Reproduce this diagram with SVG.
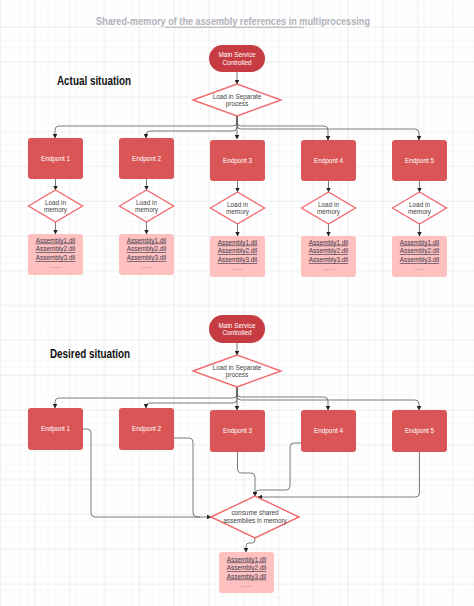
<svg xmlns="http://www.w3.org/2000/svg" width="474" height="606" viewBox="0 0 474 606">
<defs>
<pattern id="minor" width="6.96" height="6.96" patternUnits="userSpaceOnUse" x="0" y="27">
<path d="M6.96 0V6.96M0 6.96H6.96" fill="none" stroke="#ececec" stroke-width="0.6"/>
</pattern>
<pattern id="major" width="34.8" height="34.8" patternUnits="userSpaceOnUse" x="0" y="27">
<path d="M0 0V34.8M0 0H34.8" fill="none" stroke="#dcdcdc" stroke-width="0.7"/>
</pattern>
<marker id="arr" viewBox="0 0 6 6" refX="5.5" refY="3" markerWidth="4.5" markerHeight="4.5" orient="auto" markerUnits="userSpaceOnUse">
<path d="M0 0L6 3L0 6Z" fill="#222"/>
</marker>
<style>
.main{fill:#c63c42}
.ep{fill:#da5656}
.dia{fill:#fff;stroke:#f06a6e;stroke-width:1.4}
.box{fill:#ffc0c0}
.wt{font-family:"Liberation Sans",Arial,sans-serif;font-size:6.4px;fill:#fff;text-anchor:middle}
.dt{font-family:"Liberation Sans",Arial,sans-serif;font-size:6.4px;fill:#444;text-anchor:middle}
.at{font-family:"Liberation Sans",Arial,sans-serif;font-size:6.4px;fill:#3a3a4a;text-anchor:middle;text-decoration:underline}
.dots{font-family:"Liberation Sans",Arial,sans-serif;font-size:5px;fill:#666;text-anchor:middle}
.head{font-family:"Liberation Sans",Arial,sans-serif;font-size:12.5px;font-weight:bold;fill:#111}
.c{fill:none;stroke:#5a5a5a;stroke-width:0.8;marker-end:url(#arr)}
.cn{fill:none;stroke:#5a5a5a;stroke-width:0.8}
</style>
</defs>
<rect width="474" height="606" fill="#fff"/>
<rect width="474" height="606" fill="url(#minor)"/>
<rect width="474" height="606" fill="url(#major)"/>

<text x="233" y="25" font-family="Liberation Sans,Arial,sans-serif" font-size="10.5" font-weight="bold" fill="#b2b2bb" text-anchor="middle" textLength="274" lengthAdjust="spacingAndGlyphs">Shared-memory of the assembly references in multiprocessing</text>
<line x1="165" y1="27.2" x2="304" y2="27.2" stroke="#9a9aa4" stroke-width="0.8"/>

<text class="head" x="57" y="84.5" textLength="74" lengthAdjust="spacingAndGlyphs">Actual situation</text>
<text class="head" x="50" y="357.5" textLength="80" lengthAdjust="spacingAndGlyphs">Desired situation</text>

<g id="connectors">
<path class="c" d="M237 72V84"/>
<path class="c" d="M237 116V122q0 4 -4 4H59q-4 0 -4 4V138"/>
<path class="c" d="M237 116V127q0 4 -4 4H150q-4 0 -4 4V138"/>
<path class="c" d="M237 116V139"/>
<path class="c" d="M237 116V122q0 4 4 4H324q4 0 4 4V140"/>
<path class="c" d="M237 116V125q0 4 4 4H415q4 0 4 4V140"/>
<path class="c" d="M55.5 179V190"/>
<path class="c" d="M146.5 179V190"/>
<path class="c" d="M237.5 181V192"/>
<path class="c" d="M328.5 181V192"/>
<path class="c" d="M419.5 181V192"/>
<path class="c" d="M55.5 222V234"/>
<path class="c" d="M146.5 222V234"/>
<path class="c" d="M237.5 224V236"/>
<path class="c" d="M328.5 224V236"/>
<path class="c" d="M419.5 224V236"/>
<path class="c" d="M237 343V355"/>
<path class="c" d="M237 387V394q0 4 -4 4H59q-4 0 -4 4V408"/>
<path class="c" d="M237 387V399q0 4 -4 4H150q-4 0 -4 4V408"/>
<path class="c" d="M237 387V410"/>
<path class="c" d="M237 387V393q0 4 4 4H324q4 0 4 4V410"/>
<path class="c" d="M237 387V396q0 4 4 4H415q4 0 4 4V410"/>
<path class="c" d="M83 429H87q4 0 4 4V513q0 4 4 4H211"/>
<path class="cn" d="M174 438H189q4 0 4 4V513q0 4 4 4H200"/>
<path class="c" d="M237.5 452V469q0 4 4 4H251q4 0 4 4V496"/>
<path class="c" d="M301 443H294q-4 0 -4 4V486q0 4 -4 4H259q-4 0 -4 4V496"/>
<path class="c" d="M419.5 452V493q0 4 -4 4H258"/>
<path class="c" d="M255 538V540q0 3 -3 3H249q-3 0 -3 3V552"/>
</g>

<g id="main1"><rect class="main" x="209" y="45" width="56" height="27" rx="13.5"/><text class="wt" x="237" y="57">Main Service</text><text class="wt" x="237" y="64.5">Controlled</text></g>
<g id="split1"><polygon class="dia" points="193,100 237,84 281,100 237,116"/><text class="dt" x="237" y="98.5">Load in Separate</text><text class="dt" x="237" y="106">process</text></g>

<g id="ep1"><rect class="ep" x="28" y="138" width="55" height="41" rx="3"/><text class="wt" x="55.5" y="160.5">Endpont 1</text></g>
<g id="ep2"><rect class="ep" x="119" y="138" width="55" height="41" rx="3"/><text class="wt" x="146.5" y="160.5">Endpont 2</text></g>
<g id="ep3"><rect class="ep" x="210" y="140" width="55" height="41" rx="3"/><text class="wt" x="237.5" y="162.5">Endpont 3</text></g>
<g id="ep4"><rect class="ep" x="301" y="140" width="55" height="41" rx="3"/><text class="wt" x="328.5" y="162.5">Endpont 4</text></g>
<g id="ep5"><rect class="ep" x="392" y="140" width="55" height="41" rx="3"/><text class="wt" x="419.5" y="162.5">Endpont 5</text></g>

<g id="lm1"><polygon class="dia" points="28.5,206 55.5,190 82.5,206 55.5,222"/><text class="dt" x="55.5" y="204.5">Load in</text><text class="dt" x="55.5" y="212">memory</text></g>
<g id="lm2"><polygon class="dia" points="119.5,206 146.5,190 173.5,206 146.5,222"/><text class="dt" x="146.5" y="204.5">Load in</text><text class="dt" x="146.5" y="212">memory</text></g>
<g id="lm3"><polygon class="dia" points="210.5,208 237.5,192 264.5,208 237.5,224"/><text class="dt" x="237.5" y="206.5">Load in</text><text class="dt" x="237.5" y="214">memory</text></g>
<g id="lm4"><polygon class="dia" points="301.5,208 328.5,192 355.5,208 328.5,224"/><text class="dt" x="328.5" y="206.5">Load in</text><text class="dt" x="328.5" y="214">memory</text></g>
<g id="lm5"><polygon class="dia" points="392.5,208 419.5,192 446.5,208 419.5,224"/><text class="dt" x="419.5" y="206.5">Load in</text><text class="dt" x="419.5" y="214">memory</text></g>

<g id="as1"><rect class="box" x="28" y="234" width="55" height="41" rx="3"/><text class="at" x="55.5" y="242.5">Assembly1.dll</text><text class="at" x="55.5" y="251">Assembly2.dll</text><text class="at" x="55.5" y="260">Assembly3.dll</text><text class="dots" x="55.5" y="268">........</text></g>
<g id="as2"><rect class="box" x="119" y="234" width="55" height="41" rx="3"/><text class="at" x="146.5" y="242.5">Assembly1.dll</text><text class="at" x="146.5" y="251">Assembly2.dll</text><text class="at" x="146.5" y="260">Assembly3.dll</text><text class="dots" x="146.5" y="268">........</text></g>
<g id="as3"><rect class="box" x="210" y="236" width="55" height="41" rx="3"/><text class="at" x="237.5" y="244.5">Assembly1.dll</text><text class="at" x="237.5" y="253">Assembly2.dll</text><text class="at" x="237.5" y="262">Assembly3.dll</text><text class="dots" x="237.5" y="270">........</text></g>
<g id="as4"><rect class="box" x="301" y="236" width="55" height="41" rx="3"/><text class="at" x="328.5" y="244.5">Assembly1.dll</text><text class="at" x="328.5" y="253">Assembly2.dll</text><text class="at" x="328.5" y="262">Assembly3.dll</text><text class="dots" x="328.5" y="270">........</text></g>
<g id="as5"><rect class="box" x="392" y="236" width="55" height="41" rx="3"/><text class="at" x="419.5" y="244.5">Assembly1.dll</text><text class="at" x="419.5" y="253">Assembly2.dll</text><text class="at" x="419.5" y="262">Assembly3.dll</text><text class="dots" x="419.5" y="270">........</text></g>

<g id="main2"><rect class="main" x="209" y="315" width="56" height="28" rx="14"/><text class="wt" x="237" y="327.5">Main Service</text><text class="wt" x="237" y="335">Controlled</text></g>
<g id="split2"><polygon class="dia" points="193,371 237,355 281,371 237,387"/><text class="dt" x="237" y="369.5">Load in Separate</text><text class="dt" x="237" y="377">process</text></g>

<g id="dep1"><rect class="ep" x="28" y="408" width="55" height="42" rx="3"/><text class="wt" x="55.5" y="431">Endpont 1</text></g>
<g id="dep2"><rect class="ep" x="119" y="408" width="55" height="42" rx="3"/><text class="wt" x="146.5" y="431">Endpont 2</text></g>
<g id="dep3"><rect class="ep" x="210" y="410" width="55" height="42" rx="3"/><text class="wt" x="237.5" y="433">Endpont 3</text></g>
<g id="dep4"><rect class="ep" x="301" y="410" width="55" height="42" rx="3"/><text class="wt" x="328.5" y="433">Endpont 4</text></g>
<g id="dep5"><rect class="ep" x="392" y="410" width="55" height="42" rx="3"/><text class="wt" x="419.5" y="433">Endpont 5</text></g>

<g id="consume"><polygon class="dia" points="211,517 255,496 299,517 255,538"/><text class="dt" x="255" y="514.5">consume shared</text><text class="dt" x="255" y="522.5">assemblies in memory</text></g>

<g id="shared"><rect class="box" x="219" y="552" width="55" height="41" rx="3"/><text class="at" x="246.5" y="561.5">Assembly1.dll</text><text class="at" x="246.5" y="570">Assembly2.dll</text><text class="at" x="246.5" y="578.5">Assembly3.dll</text><text class="dots" x="246.5" y="587">........</text></g>
</svg>
